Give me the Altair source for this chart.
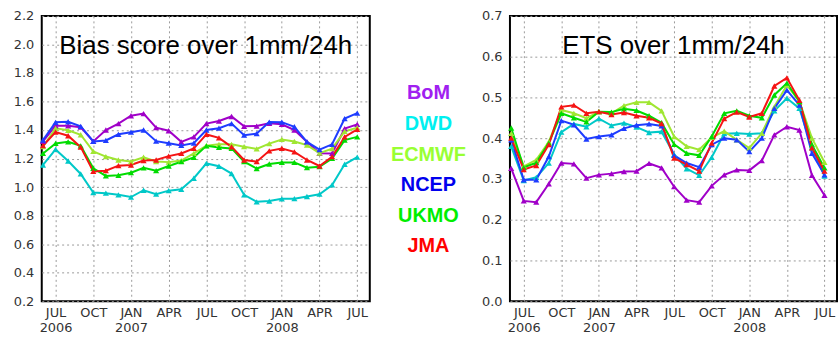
import json
import altair as alt
import pandas as pd

models = ["BoM", "DWD", "ECMWF", "NCEP", "UKMO", "JMA"]
line_colors = ["#a000c8", "#00c8c8", "#a0e632", "#1e3cff", "#00dc00", "#f51414"]
legend_colors = ["#a020f0", "#00f0f0", "#99ff33", "#0000ee", "#00ee00", "#ff0000"]

# month index: 0 = Jun 2006 ... 25 = Jul 2008
months = list(range(26))
tick_months = [1, 4, 7, 10, 13, 16, 19, 22, 25]
tick_labels = ["JUL|2006", "OCT", "JAN|2007", "APR", "JUL", "OCT", "JAN|2008", "APR", "JUL"]

bias_ticks = [0.2, 0.4, 0.6, 0.8, 1.0, 1.2, 1.4, 1.6, 1.8, 2.0, 2.2]
ets_ticks = [0.0, 0.1, 0.2, 0.3, 0.4, 0.5, 0.6, 0.7]

bias_title = "Bias score over 1mm/24h"
ets_title = "ETS over 1mm/24h"

bias_bom = [1.32, 1.43, 1.43, 1.42, 1.32, 1.40, 1.445, 1.50, 1.515, 1.417, 1.395, 1.317, 1.352,
            1.445, 1.463, 1.495, 1.426, 1.428, 1.447, 1.44, 1.40, 1.317, 1.237, 1.236, 1.41, 1.44]
bias_dwd = [1.155, 1.264, 1.183, 1.092, 0.962, 0.957, 0.946, 0.93, 0.978, 0.95, 0.975, 0.985, 1.062,
            1.166, 1.146, 1.095, 0.946, 0.897, 0.902, 0.918, 0.919, 0.934, 0.95, 1.015, 1.16, 1.21]
bias_ecmwf = [1.284, 1.412, 1.398, 1.367, 1.25, 1.214, 1.19, 1.179, 1.209, 1.179, 1.175, 1.186, 1.236,
              1.29, 1.30, 1.30, 1.283, 1.268, 1.305, 1.334, 1.32, 1.294, 1.238, 1.27, 1.39, 1.417]
bias_ncep = [1.33, 1.454, 1.458, 1.426, 1.32, 1.327, 1.37, 1.385, 1.40, 1.322, 1.308, 1.292, 1.308,
             1.40, 1.413, 1.445, 1.364, 1.375, 1.456, 1.455, 1.423, 1.317, 1.262, 1.30, 1.48, 1.519]
bias_ukmo = [1.236, 1.306, 1.317, 1.289, 1.132, 1.078, 1.083, 1.101, 1.135, 1.115, 1.148, 1.178, 1.208,
             1.289, 1.278, 1.271, 1.178, 1.13, 1.162, 1.173, 1.173, 1.136, 1.143, 1.201, 1.329, 1.352]
bias_jma = [1.29, 1.385, 1.36, 1.28, 1.11, 1.115, 1.15, 1.155, 1.186, 1.19, 1.217, 1.236, 1.271,
            1.369, 1.345, 1.282, 1.19, 1.178, 1.254, 1.271, 1.247, 1.19, 1.148, 1.213, 1.352, 1.405]

ets_bom = [0.326, 0.246, 0.243, 0.288, 0.339, 0.337, 0.302, 0.31, 0.313, 0.318, 0.319, 0.338, 0.327,
           0.281, 0.248, 0.243, 0.283, 0.31, 0.322, 0.321, 0.345, 0.408, 0.428, 0.42, 0.309, 0.26]
ets_dwd = [0.38, 0.296, 0.304, 0.339, 0.415, 0.435, 0.428, 0.448, 0.431, 0.437, 0.427, 0.414, 0.416,
           0.36, 0.325, 0.309, 0.353, 0.411, 0.412, 0.41, 0.412, 0.467, 0.498, 0.473, 0.376, 0.307]
ets_ecmwf = [0.412, 0.331, 0.347, 0.391, 0.469, 0.461, 0.449, 0.465, 0.461, 0.48, 0.488, 0.488, 0.467,
             0.404, 0.38, 0.372, 0.402, 0.417, 0.396, 0.376, 0.412, 0.477, 0.53, 0.49, 0.40, 0.341]
ets_ncep = [0.396, 0.298, 0.298, 0.355, 0.443, 0.433, 0.398, 0.404, 0.408, 0.424, 0.432, 0.435, 0.43,
            0.358, 0.339, 0.329, 0.384, 0.40, 0.396, 0.367, 0.40, 0.473, 0.518, 0.481, 0.363, 0.31]
ets_ukmo = [0.425, 0.328, 0.34, 0.388, 0.461, 0.45, 0.44, 0.465, 0.464, 0.472, 0.468, 0.455, 0.438,
            0.385, 0.363, 0.358, 0.404, 0.461, 0.467, 0.455, 0.45, 0.506, 0.535, 0.49, 0.384, 0.327]
ets_jma = [0.40, 0.323, 0.333, 0.384, 0.477, 0.481, 0.461, 0.465, 0.458, 0.463, 0.455, 0.45, 0.436,
           0.351, 0.335, 0.319, 0.388, 0.448, 0.464, 0.452, 0.461, 0.528, 0.548, 0.493, 0.376, 0.319]

bias_series = [bias_bom, bias_dwd, bias_ecmwf, bias_ncep, bias_ukmo, bias_jma]
ets_series = [ets_bom, ets_dwd, ets_ecmwf, ets_ncep, ets_ukmo, ets_jma]


def long_frame(series):
    rows = []
    for name, vals in zip(models, series):
        for m, v in zip(months, vals):
            rows.append({"model": name, "m": m, "v": v})
    return pd.DataFrame(rows)


label_expr = "".join(
    f"datum.value == {m} ? {json.dumps(lbl.split('|'))} : " for m, lbl in zip(tick_months, tick_labels)
) + "''"

W, H = 330, 287
label_font = "DejaVu Sans"


def panel(series, ydomain, yticks, title, width):
    df = long_frame(series)
    x = alt.X(
        "m:Q",
        scale=alt.Scale(domain=[-0.1, 26], nice=False, zero=False),
        axis=alt.Axis(values=tick_months, labelExpr=label_expr, title=None, grid=True,
                      ticks=False, domain=False, labelFlush=False, labelPadding=5,
                      labelLineHeight=15, labelFontSize=13, labelFont=label_font,
                      labelColor="#333", gridDash=[2, 3], gridColor="#999", gridWidth=1),
    )
    y = alt.Y(
        "v:Q",
        scale=alt.Scale(domain=ydomain, nice=False, zero=False),
        axis=alt.Axis(values=yticks, format=".1f", title=None, ticks=False, domain=False,
                      labelPadding=8, labelFontSize=13, labelFont=label_font, labelColor="#333",
                      gridDash=[2, 3], gridColor="#999", gridWidth=1),
    )
    color = alt.Color("model:N", scale=alt.Scale(domain=models, range=line_colors), legend=None)
    base = alt.Chart(df)
    lines = base.mark_line(strokeWidth=2).encode(x=x, y=y, color=color)
    pts = base.mark_point(shape="triangle-up", filled=True, size=38, opacity=1).encode(
        x=x, y=y, color=color)
    ttl = alt.Chart(pd.DataFrame({"t": [title]})).mark_text(
        font="Liberation Sans", fontSize=26, baseline="alphabetic", align="center", color="black"
    ).encode(text="t:N", x=alt.value(width / 2), y=alt.value(38))
    return alt.layer(lines, pts, ttl).properties(
        width=width, height=H, view=alt.ViewBackground(stroke="black", strokeWidth=2))


left = panel(bias_series, [0.2, 2.2], bias_ticks, bias_title, W)
right = panel(ets_series, [0.0, 0.7], ets_ticks, ets_title, 329)

legend = alt.Chart(pd.DataFrame({"model": models})).mark_text(
    font="Liberation Sans", fontWeight="bold", fontSize=20, align="center", baseline="middle"
).encode(
    y=alt.Y("model:N", sort=models, scale=alt.Scale(type="point", range=[78, 232], padding=0),
            axis=None),
    x=alt.value(57),
    text="model:N",
    color=alt.Color("model:N", scale=alt.Scale(domain=models, range=legend_colors), legend=None),
).properties(width=108, height=H, view=alt.ViewBackground(stroke="transparent"))

chart = alt.hconcat(left, legend, right, spacing=0).resolve_scale(
    x="independent", y="independent", color="independent"
).properties(
    padding={"left": 12, "top": 8, "right": 0, "bottom": 0}, background="white"
)

chart.save("out.html", embed_options={"renderer": "svg", "actions": False})
